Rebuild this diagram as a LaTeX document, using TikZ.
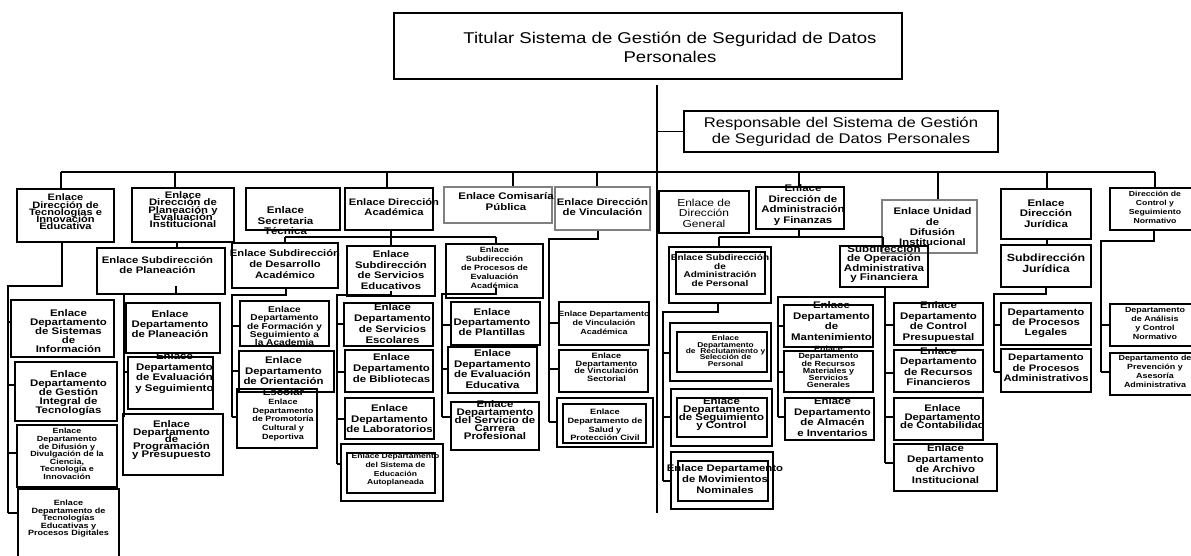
\documentclass[tikz,border=0pt]{standalone}
\usepackage{fontspec}
\setmainfont{Liberation Sans}[FakeStretch=1.19]
\definecolor{gry}{RGB}{128,128,128}
\newcommand\bx[9][]{%
  \pgfmathsetmacro\bxw{#5-#3}\pgfmathsetmacro\bxh{#6-#4}%
  \pgfmathsetmacro\bxcx{(#3+#5)/2}\pgfmathsetmacro\bxcy{(#4+#6)/2}%
  \node[box,minimum width=\bxw pt,minimum height=\bxh pt,#1] (#2) at (\bxcx,\bxcy) {};%
  \node[txt,#8] (#2t) at (\bxcx,#7) {#9};}
\newcommand\ibx[6][]{%
  \pgfmathsetmacro\bxw{#5-#3}\pgfmathsetmacro\bxh{#6-#4}%
  \pgfmathsetmacro\bxcx{(#3+#5)/2}\pgfmathsetmacro\bxcy{(#4+#6)/2}%
  \node[thk,minimum width=\bxw pt,minimum height=\bxh pt,#1] (#2) at (\bxcx,\bxcy) {};}
\newcommand\tk[3]{\draw[ln] (#1,#2) -- (#3.west |- 0,#2);}
\newcommand\drp[2]{\draw[ln] (#1.north -| #2,0) -- (#2,172);}
\newcommand\fsb[2]{\fontsize{#1}{#2}\selectfont\bfseries}
\newcommand\fsr[2]{\fontsize{#1}{#2}\selectfont}
\begin{document}
\lineskiplimit=-50pt
\lineskip=0pt
\begin{tikzpicture}[x=1pt,y=-1pt,
  box/.style={draw=black,line width=1.5pt,inner sep=0pt,rectangle},
  gbox/.style={draw=gry},
  thk/.style={draw=black,line width=2.5pt,inner sep=0pt,rectangle},
  txt/.style={inner sep=0pt,align=center},
  fs/.style 2 args={font={\fsb{#1}{#2}}},
  fr/.style 2 args={font={\fsr{#1}{#2}}},
  ln/.style={draw=black,line width=1.3pt}]
\useasboundingbox (0,0) rectangle (1191,555);
% top
\bx{T}{394}{13}{902}{79}{47.5}{fr={15.6}{19},xshift=22pt}{Titular Sistema de Gestión de Seguridad de Datos\\Personales}
\bx{R}{684}{111}{998}{152}{132}{fr={14}{16}}{Responsable del Sistema de Gestión\\de Seguridad de Datos Personales}
\coordinate (trTop) at (657,85);
\coordinate (trBot) at (657,513);
\draw[ln] (trTop) -- (trBot);
\draw[ln] (R.west) -- (R.west -| trTop);
\coordinate (busL) at (61,172);
\coordinate (busR) at (1155,172);
\draw[ln] (busL) -- (busR);
% level 1
\bx{A1}{17}{189}{114}{242}{212}{fs={9.3}{7.3}}{Enlace\\Dirección de\\Tecnologías e\\Innovación\\Educativa}
\bx{A2}{132}{188}{234}{242}{209.6}{fs={9.5}{7.3}}{Enlace\\Dirección de\\Planeación y\\Evaluación\\Institucional}
\bx{A3}{246}{188}{340}{230}{220.7}{fs={9.7}{10.5},xshift=-7.5pt}{Enlace\\Secretaria\\Técnica}
\bx{A4}{345}{188}{433}{230}{207}{fs={9.4}{10.3},xshift=5pt}{Enlace Dirección\\Académica}
\bx[gbox]{A5}{444}{187}{552}{223}{201.5}{fs={9.6}{10.7},xshift=8pt}{Enlace Comisaría\\Pública}
\bx[gbox]{A6}{555}{187}{650}{230}{207.5}{fs={9.5}{10}}{Enlace Dirección\\de Vinculación}
\bx{A7}{659}{191}{749}{233}{213}{fr={10.1}{10.5}}{Enlace de\\Dirección\\General}
\bx{A8}{756}{187}{844}{229}{205}{fs={9.6}{10.5},xshift=3pt}{Enlace\\Dirección de\\Administración\\y Finanzas}
\bx[gbox]{A9}{882}{200}{977}{253}{227}{fs={9.5}{10.3},xshift=3pt}{Enlace Unidad\\de\\Difusión\\Institucional}
\bx{A10}{1001}{189}{1091}{239}{213.5}{fs={9.6}{10.5}}{Enlace\\Dirección\\Jurídica}
\bx{A11}{1110}{188}{1200}{230}{207.5}{fs={7.3}{8.9}}{Dirección de\\Control y\\Seguimiento\\Normativo}
\drp{A1}{61}\drp{A2}{175}\drp{A4}{387}\drp{A5}{513}\drp{A6}{597}
\drp{A8}{799}\drp{A9}{938}\drp{A10}{1047}\drp{A11}{1155}
% column A1
\bx{B1}{11}{300}{114}{357}{331}{fs={9.6}{9},xshift=6pt}{Enlace\\Departamento\\de Sistemas\\de\\Información}
\bx{B2}{15}{362}{117}{421}{393}{fs={9.6}{9},xshift=2.5pt}{Enlace\\Departamento\\de Gestión\\Integral de\\Tecnologías}
\bx{B3}{17}{425}{117}{487}{454}{fs={7.5}{7.6}}{Enlace\\Departamento\\de Difusión y\\Divulgación de la\\Ciencia,\\Tecnología e\\Innovación}
\bx{B4}{18}{489}{119}{560}{519}{fs={7.6}{7.5}}{Enlace\\Departamento de\\Tecnologías\\Educativas y\\Procesos Digitales}
\draw[ln] (A1.south -| 62,0) -- (62,286) -- (8,286) -- (8,513);
\tk{8}{322}{B1}\tk{8}{385}{B2}\tk{8}{453}{B3}\tk{8}{513}{B4}
% column A2
\bx{C1}{97}{248}{225}{294}{265}{fs={9.5}{10},xshift=-3.5pt}{Enlace Subdirección\\de Planeación}
\bx{C2}{126}{303}{220}{353}{324}{fs={9.6}{10},xshift=-3pt}{Enlace\\Departamento\\de Planeación}
\bx{C3}{128}{357}{213}{409}{373}{fs={9.6}{10.8},xshift=4pt}{Enlace\\Departamento\\de Evaluación\\y Seguimiento}
\bx{C4}{123}{414}{223}{475}{440}{fs={9.6}{7.3},xshift=-1.5pt}{Enlace\\Departamento\\de\\Programación\\y Presupuesto}
\draw[ln] (A2.south -| 177,0) -- (C1.north -| 177,0);
\draw[ln] (C1.south -| 176,0) -- (176,286);
\draw[ln] (C1.south -| 124,0) -- (124,417);
\tk{124}{325}{C2}\tk{124}{372}{C3}\tk{124}{417}{C4}
% column Academica
\bx{D1}{232}{243}{338}{288}{264}{fs={9.4}{10.8}}{Enlace Subdirección\\de Desarrollo\\Académico}
\bx{D2}{347}{246}{435}{296}{270}{fs={9.5}{10.7}}{Enlace\\Subdirección\\de Servicios\\Educativos}
\bx{D3}{446}{244}{543}{298}{268}{fs={7.6}{9}}{Enlace\\Subdirección\\de Procesos de\\Evaluación\\Académica}
\draw[ln] (A4.south -| 391,0) -- (391,237);
\draw[ln] (285,237) -- (496,237);
\draw[ln] (285,237) -- (D1.north -| 285,0);
\draw[ln] (391,237) -- (D2.north -| 391,0);
\draw[ln] (496,237) -- (D3.north -| 496,0);
\bx{D4}{240}{301}{329}{346}{326}{fs={8.5}{8.4}}{Enlace\\Departamento\\de Formación y\\Seguimiento a\\la Academia}
\bx{D5}{239}{351}{334}{392}{376}{fs={9.6}{10.5},xshift=-3pt}{Enlace\\Departamento\\de Orientación\\Escolar}
\bx{D6}{237}{389}{317}{448}{420}{fs={7.6}{8.8},xshift=6pt}{Enlace\\Departamento\\de Promotoría\\Cultural y\\Deportiva}
\draw[ln] (D1.south -| 286,0) -- (286,295) -- (232,295) -- (232,417);
\tk{232}{326}{D4}\tk{232}{371}{D5}\tk{232}{417}{D6}
\bx{D7}{344}{303}{433}{346}{324}{fs={9.6}{11},xshift=4pt}{Enlace\\Departamento\\de Servicios\\Escolares}
\bx{D8}{345}{350}{433}{392}{368}{fs={9.6}{10.7},xshift=2.5pt}{Enlace\\Departamento\\de Bibliotecas}
\bx{D9}{345}{398}{434}{439}{419}{fs={9.6}{10.5}}{Enlace\\Departamento\\de Laboratorios}
\bx{D10}{341}{444}{443}{501}{470}{fs={7.2}{8.6},xshift=3.5pt}{Enlace Departamento\\del Sistema de\\Educación\\Autoplaneada}
\ibx{D10i}{347}{453}{435}{493}
\draw[ln] (D2.south -| 391,0) ++(0,-6) -- (391,295) -- (337,295) -- (337,464);
\tk{337}{324}{D7}\tk{337}{372}{D8}\tk{337}{419}{D9}\tk{337}{464}{D10}
\bx{D11}{451}{302}{540}{345}{322}{fs={9.6}{10},xshift=-3.5pt}{Enlace\\Departamento\\de Plantillas}
\bx{D12}{448}{347}{537}{393}{369}{fs={9.6}{10.5}}{Enlace\\Departamento\\de Evaluación\\Educativa}
\bx{D13}{451}{402}{539}{450}{420}{fs={9.6}{8.2}}{Enlace\\Departamento\\del Servicio de\\Carrera\\Profesional}
\draw[ln] (D3.south -| 496,0) ++(0,-11) -- (496,294) -- (442,294) -- (442,417);
\tk{442}{325}{D11}\tk{442}{369}{D12}\tk{442}{417}{D13}
% column Vinculacion
\bx{E1}{559}{302}{649}{345}{323}{fs={7.5}{9}}{Enlace Departamento\\de Vinculación\\Académica}
\bx{E2}{559}{350}{648}{392}{367}{fs={7.7}{7.5},xshift=3pt}{Enlace\\Departamento\\de Vinculación\\Sectorial}
\bx[line width=2pt]{E3}{557}{398}{653}{447}{425}{fs={7.7}{8.7}}{Enlace\\Departamento de\\Salud y\\Protección Civil}
\ibx[line width=2.7pt]{E3i}{563}{404}{646}{443}
\draw[ln] (A6.south -| 598,0) -- (598,239) -- (549,239) -- (549,422);
\tk{549}{323}{E1}\tk{549}{369}{E2}\tk{549}{422}{E3}
% column Administracion
\bx{F1}{669}{247}{771}{303}{270.5}{fs={8.4}{8.6}}{Enlace Subdirección\\de\\Administración\\de Personal}
\ibx{F1i}{676}{252}{765}{294}
\bx{F2}{840}{246}{928}{287}{264}{fs={9.7}{9.2}}{Subdirección\\de Operación\\Administrativa\\y Financiera}
\draw[ln] (A8.south -| 799,0) -- (799,237);
\draw[ln] (719,237) -- (883,237);
\draw[ln] (719,237) -- (F1.north -| 719,0);
\draw[ln] (883,237) -- (F2.north -| 883,0);
\bx{F3}{670}{323}{771}{381}{351}{fs={7.06}{6.4},xshift=5pt}{Enlace\\Departamento\\de\ \ Reclutamiento y\\Selección de\\Personal}
\ibx{F3i}{677}{332}{767}{372}
\bx{F4}{671}{389}{772}{446}{414}{fs={9.6}{8.3}}{Enlace\\Departamento\\de Seguimiento\\y Control}
\ibx{F4i}{677}{398}{767}{437}
\bx{F5}{671}{452}{773}{509}{479}{fs={9.55}{10.7},xshift=3pt}{Enlace Departamento\\de Movimientos\\Nominales}
\ibx{F5i}{678}{461}{768}{501}
\draw[ln] (F1.south -| 718,0) -- (718,312) -- (663,312) -- (663,481);
\tk{663}{353}{F3}\tk{663}{417}{F4}\tk{663}{481}{F5}
\bx{G1}{784}{305}{873}{347}{321}{fs={9.6}{10.7},xshift=3pt}{Enlace\\Departamento\\de\\Mantenimiento}
\bx{G2}{784}{351}{873}{392}{367}{fs={7.5}{7.2}}{Enlace\\Departamento\\de Recursos\\Materiales y\\Servicios\\Generales}
\bx{G3}{785}{398}{874}{440}{417}{fs={9.6}{10.6},xshift=3pt}{Enlace\\Departamento\\de Almacén\\e Inventarios}
\bx{H1}{894}{303}{983}{345}{322}{fs={9.6}{10.7}}{Enlace\\Departamento\\de Control\\Presupuestal}
\bx{H2}{894}{350}{983}{392}{366.5}{fs={9.6}{10.5}}{Enlace\\Departamento\\de Recursos\\Financieros}
\bx{H3}{894}{398}{983}{440}{417}{fs={9.5}{8.5},xshift=4pt}{Enlace\\Departamento\\de Contabilidad}
\bx{H4}{894}{444}{997}{491}{464}{fs={9.6}{10.5}}{Enlace\\Departamento\\de Archivo\\Institucional}
\draw[ln] (F2.south -| 885,0) -- (885,463);
\draw[ln] (885,297) -- (778,297) -- (778,417);
\tk{778}{326}{G1}\tk{778}{372}{G2}\tk{778}{417}{G3}
\tk{885}{325}{H1}\tk{885}{373}{H2}\tk{885}{417}{H3}\tk{885}{463}{H4}
% column Juridica
\bx{I1}{1001}{245}{1091}{287}{263.5}{fs={10.4}{10.7}}{Subdirección\\Jurídica}
\bx{I2}{1001}{303}{1091}{345}{323}{fs={9.6}{10}}{Departamento\\de Procesos\\Legales}
\bx{I3}{1001}{349}{1091}{392}{368}{fs={9.45}{10.5}}{Departamento\\de Procesos\\Administrativos}
\draw[ln] (A10.south -| 1047,0) -- (I1.north -| 1047,0);
\draw[ln] (I1.south -| 1046,0) -- (1046,294) -- (994,294) -- (994,372);
\tk{994}{325}{I2}\tk{994}{372}{I3}
% column Control
\bx{J1}{1110}{304}{1200}{346}{323.5}{fs={7.5}{9}}{Departamento\\de Análisis\\y Control\\Normativo}
\bx{J2}{1110}{353}{1200}{395}{371.5}{fs={7.5}{8.9}}{Departamento de\\Prevención y\\Asesoría\\Administrativa}
\draw[ln] (A11.south -| 1154,0) -- (1154,241) -- (1101,241) -- (1101,372);
\tk{1101}{325}{J1}\tk{1101}{372}{J2}
\end{tikzpicture}
\end{document}
